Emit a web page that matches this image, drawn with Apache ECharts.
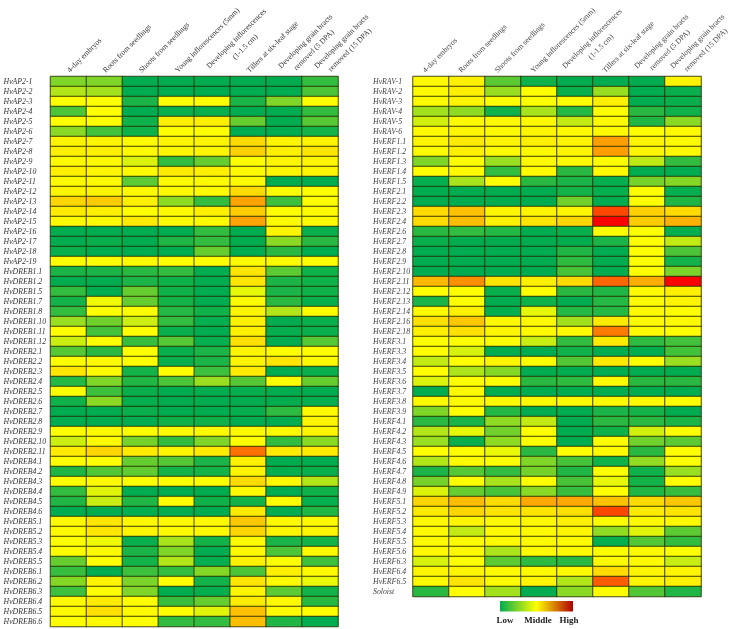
<!DOCTYPE html>
<html><head><meta charset="utf-8">
<style>html,body{margin:0;padding:0;background:#fff}#c{width:733px;height:629px}</style>
<script src="https://cdn.jsdelivr.net/npm/echarts@6/dist/echarts.min.js"></script>
</head><body><div id="c"></div>
<script>
const columns = ['4-day embryos','Roots from seedlings','Shoots from seedlings','Young inflorescences (5mm)','Developing inflorescences\n(1-1.5 cm)','Tillers at six-leaf stage','Developing grain bracts\nremoved (5 DPA)','Developing grain bracts\nremoved (15 DPA)'];
const leftGenes = ['HvAP2-1','HvAP2-2','HvAP2-3','HvAP2-4','HvAP2-5','HvAP2-6','HvAP2-7','HvAP2-8','HvAP2-9','HvAP2-10','HvAP2-11','HvAP2-12','HvAP2-13','HvAP2-14','HvAP2-15','HvAP2-16','HvAP2-17','HvAP2-18','HvAP2-19','HvDREB1.1','HvDREB1.2','HvDREB1.5','HvDREB1.7','HvDREB1.8','HvDREB1.10','HvDREB1.11','HvDREB1.12','HvDREB2.1','HvDREB2.2','HvDREB2.3','HvDREB2.4','HvDREB2.5','HvDREB2.6','HvDREB2.7','HvDREB2.8','HvDREB2.9','HvDREB2.10','HvDREB2.11','HvDREB4.1','HvDREB4.2','HvDREB4.3','HvDREB4.4','HvDREB4.5','HvDREB4.6','HvDREB5.1','HvDREB5.2','HvDREB5.3','HvDREB5.4','HvDREB5.5','HvDREB6.1','HvDREB6.2','HvDREB6.3','HvDREB6.4','HvDREB6.5','HvDREB6.6'];
const rightGenes = ['HvRAV-1','HvRAV-2','HvRAV-3','HvRAV-4','HvRAV-5','HvRAV-6','HvERF1.1','HvERF1.2','HvERF1.3','HvERF1.4','HvERF1.5','HvERF2.1','HvERF2.2','HvERF2.3','HvERF2.4','HvERF2.6','HvERF2.7','HvERF2.8','HvERF2.9','HvERF2.10','HvERF2.11','HvERF2.12','HvERF2.13','HvERF2.14','HvERF2.16','HvERF2.18','HvERF3.1','HvERF3.3','HvERF3.4','HvERF3.5','HvERF3.6','HvERF3.7','HvERF3.8','HvERF3.9','HvERF4.1','HvERF4.2','HvERF4.3','HvERF4.5','HvERF4.6','HvERF4.7','HvERF4.8','HvERF4.9','HvERF5.1','HvERF5.2','HvERF5.3','HvERF5.4','HvERF5.5','HvERF5.6','HvERF6.3','HvERF6.4','HvERF6.5','Soloist'];
const legendLabels = ['Low','Middle','High'];
const leftValues = [
[2.5,2.5,0,0,0,0,0,1],[3.5,3.2,0,0,0,0,0,1.5],[5,5,0.5,5,5,0.5,2.5,5],[1.5,5,0,0.2,0.2,0,0,1],[5,5,0.3,5.3,5.3,2,0,1.7],[2.7,1.3,0.3,5,5,0,0,0.4],
[5.2,5.2,5.1,5.2,5.2,5.7,5.2,5.2],[5.3,5.3,5.1,5.2,5.2,5.9,5.3,5.5],[5.1,5.1,4.3,1,2,5,5.2,5.2],[5.3,5.2,5.1,5.4,5.3,5.1,5.2,5.2],[5.1,5.1,1.8,5.1,5.1,5.1,0,0],[5.2,5.2,5.1,5.1,5.1,5.7,5,5],
[5.8,6,5.3,2.8,1,6.8,1.2,5],[5.4,5.3,5,5.1,5.3,6,5,5.1],[5.1,5.1,5.4,5.1,5.1,6.8,5.1,5.1],[0,0,0,0,1,0,5.2,0.2],[0,0.2,0,0.6,1,0,2.7,0.8],[0.2,0,0,0,2,0,0.8,0],[5,5,5.1,5,5,5.1,5.1,5],
[0.5,0.5,0.8,1,0,5.5,1.8,0.3],[0,0,0.5,0.3,0,5.5,0.5,0.3],[1,0,2,0.3,0,4.5,0.5,0.3],[0.4,4.7,2,0.4,0,5.1,0.8,0.2],[1,5,4.9,0.7,0.3,5.2,3.5,5],[3,2.2,4,1,0.1,5.3,0,0.2],[5,1.3,5,0.2,0,5.3,0.1,0.2],[4,5,1.1,1.7,0.1,5.6,0,1.7],
[1.7,0.8,5,0.2,0.5,5.2,5,5],[5,5.1,5,0.2,0.5,5.2,5.5,5.1],[5.5,5.1,0.4,5,1.2,5.4,0,0.2],[0.7,2.5,0.6,1.5,3,1.7,5,2],[5,1.2,0.2,0,0,0.1,0,0],[0.3,2.7,0.1,0,0,0,0,0.1],[0,0,0.2,0,0,0.1,0.9,5.1],[0,0,0,0.3,0.3,0,0,5.2],[5,5.1,5,5.1,5.1,5.1,5.1,5.2],[4,5.1,2.3,1,2.5,5,1,2.7],[5.4,5.8,5.4,5.2,5.4,7.8,5.4,5.4],
[5,5,2,1.7,0.5,5.3,0,0],[0.6,1.6,1.9,0.4,0.4,5.2,0.1,0.2],[5,5.1,5,5,5,5.7,5.1,3.5],[1,4.4,0,0,0,5.1,0,0.3],[0.6,3.9,0.6,5,0.3,0.4,5,0.1],[0,0,0.1,0,0,5.4,0,0.6],
[5.1,5.5,5.1,5.1,5.1,6.1,5.1,5.1],[5.1,5.5,5.2,5.1,5.1,5.8,5.2,5.2],[5,4.7,0.2,3.3,0.4,5.1,0.5,0.4],[5,5.1,0.5,2.5,0,5.1,1.5,5.1],[2,5,0.4,3.5,0.1,5.3,5,1.2],
[1.1,0,1.2,1,2.6,1.5,5.3,5.1],[2.6,5.2,2.4,5,0.4,5.5,5.1,4.6],[1.2,5,2.5,0,0.1,5.2,1.8,0.4],[5.1,5.4,5,1.1,2,5.4,5.1,0.8],[5.1,5.6,5.1,5,4.4,6.2,5.1,5],[5,5.1,5,1,1,6.3,0.6,0]];
const rightValues = [
[5.1,5.3,1.8,0.3,0,0,0,5.2],[5.1,5.3,3,5,0.2,3,0,0.2],[5.1,5.2,5,5,5,5.3,0,0.2],[3.2,2.8,0.3,3.3,0.7,5,0.8,0.3],[4.1,5.1,5.1,5.1,3.8,5.1,0.6,2.7],[5.1,5.2,5.1,5.2,5.1,5.1,5,5.1],
[5.2,5.4,5.2,5.3,5.2,6.9,5.2,5.1],[5.1,5.3,5.1,5.1,5.2,6.9,5.2,5.1],[2.5,5,3,5.1,5.1,5,3.7,1],[5,5.1,1,5.1,0.8,5.1,0,0],[0.1,3.3,5,0.8,0.5,0.1,2.3,2.6],
[0,0,0,0,0.4,0.1,5,0.1],[0,0,0,0,2.2,0,5,0.6],[5.7,6.2,5.2,5.2,5.2,8.6,5.9,5.7],[5.7,6.3,5.3,5.5,5.8,10,6,6.5],[0.8,1,0.7,0,0.2,5,5,0.1],[0.2,0,0,0,0,0.5,5,3.8],[0,0,0,0,0.6,0,5,1.5],[0,0,0,0,0.9,0,5,0.4],[0,0,0,0,1.4,0,5,2.4],[6.4,7.2,5.5,5.3,5.7,8,6.6,10],[5,5,0.2,5,0.8,0.6,5.1,5.3],[0.5,5,0,0.3,0,0.7,5.1,5.2],[5.1,5.3,0.1,4.5,0.7,0.7,5.1,5],[5.6,6.1,5.1,5.1,3.2,5.4,5.1,5.1],[5.3,5.6,5.2,5.1,5.1,7.6,5.1,5],
[5,5,5,3.9,1,5.4,0.9,1.3],[5,4.2,0,0,0.3,0,0,1.3],[3.8,5,5.2,5,1.6,5.4,5,3],[5,3.4,2.6,0,0,0,0,0],[4.3,5,5,0.8,0.9,5.1,0.8,0.8],[0,5.1,0,0,0,0,0,0],[5.1,5.1,5.1,5.1,5.1,5.1,5.1,5],[2.5,5,0.7,0,0,0.5,0.4,0],
[0.8,0.5,2.8,3.8,0,0.8,0.8,0.5],[3.5,4.5,2.2,5,0,0.3,4.1,5],[3,0.2,2.8,5,0,5,2.2,1.8],[5,5,4.6,0.8,5,5.1,0.8,5],[3.5,5.1,5,2.5,1.4,0.3,2.9,5],[0.5,1.7,1,2.3,0.6,5,0.3,3],[2.3,5,3.3,5,1.4,4.5,0.4,5],[4.3,2,1.4,2.7,1.1,5,0.6,1.1],
[5.8,6.3,5.7,6.7,6.7,6.2,5.7,6.1],[5.4,5.8,5.5,5.5,5.6,8.6,5.4,5.5],[5.1,5.2,5.1,5.1,5.3,5,5.1,5.1],[5.1,3.8,5.1,5.1,5.2,2.8,4.4,1.8],[5.1,5.1,5.1,5.1,5.1,0.1,1.6,1],[5.1,5.1,3.4,5.1,5.1,5,5.1,5],
[4.2,5,1.8,0.9,0.8,5.1,5.1,3.9],[5.2,5.2,5.1,5.1,5.1,5.7,5.2,5.2],[5.1,5.5,5.1,5.2,3.5,8.2,5.2,5.3],[0.8,5,3.2,0,2.7,5,1.6,0.6]];

const font = '"Liberation Serif","Times New Roman",serif';
const colFont = 7.6;
const meas = document.createElement('canvas').getContext('2d');
meas.font = colFont + 'px "Liberation Serif"';
// centre the second line of a two-line column label under the first
function colLabel(v){
  const p = v.split('\n');
  if (p.length < 2) return v;
  const n = Math.round((meas.measureText(p[0]).width - meas.measureText(p[1]).width) / 2 / meas.measureText(' ').width);
  return p[0] + '\n' + ' '.repeat(Math.max(n,0)) + p[1];
}
const toCells = rows => rows.flatMap((r,y) => r.map((v,x) => [x,y,v]));
const xAxisOf = (i,showLabels,color) => ({type:'category',gridIndex:i,position:'top',data:columns,
  axisLine:{show:false},axisTick:{show:false},splitLine:{show:false},
  axisLabel:{show:showLabels,interval:0,rotate:-45,fontFamily:font,fontSize:colFont,color:color,margin:5,lineHeight:12,formatter:colLabel,hideOverlap:false}});
const yAxisOf = (i,genes,m,color) => ({type:'category',gridIndex:i,inverse:true,data:genes,
  axisLine:{show:false},axisTick:{show:false},splitLine:{show:false},
  axisLabel:{interval:0,align:'left',margin:m,fontFamily:font,fontStyle:'italic',fontSize:7.8,color:color}});
const seriesOf = (i,rows) => ({type:'heatmap',xAxisIndex:i,yAxisIndex:i,data:toCells(rows),progressive:0,
  itemStyle:{borderColor:'rgba(35,45,0,0.85)',borderWidth:1},emphasis:{disabled:true}});
const legendX = [505,538,569];
const chart = echarts.init(document.getElementById('c'),null,{renderer:'canvas'});
chart.setOption({
  animation:false,backgroundColor:'#fff',tooltip:{show:false},
  grid:[{left:50.5,top:76.5,width:287.5,height:550,outerBoundsMode:'none'},
        {left:413,top:76.5,width:288,height:520,outerBoundsMode:'none'},
        {left:406,top:76.5,width:288,height:520,outerBoundsMode:'none'}],
  xAxis:[xAxisOf(0,true,'#333'),xAxisOf(1,false,'#444'),xAxisOf(2,true,'#444')],
  yAxis:[yAxisOf(0,leftGenes,47,'#333'),yAxisOf(1,rightGenes,40,'#444'),{type:'category',gridIndex:2,show:false,data:rightGenes}],
  visualMap:{show:false,min:0,max:10,seriesIndex:[0,1],inRange:{color:['#00ac50','#ffff00','#ff0000']}},
  series:[seriesOf(0,leftValues),seriesOf(1,rightValues)],
  graphic:[
    {type:'rect',shape:{x:500,y:601,width:73,height:10.5},
     style:{fill:new echarts.graphic.LinearGradient(0,0,1,0,[{offset:0,color:'#00ac50'},{offset:0.5,color:'#ffff00'},{offset:1,color:'#b00000'}])}},
    ...legendLabels.map((t,i)=>({type:'text',style:{x:legendX[i],y:621,text:t,align:'center',verticalAlign:'middle',font:'bold 9px '+font,fill:'#222'}}))
  ]
});
</script></body></html>
